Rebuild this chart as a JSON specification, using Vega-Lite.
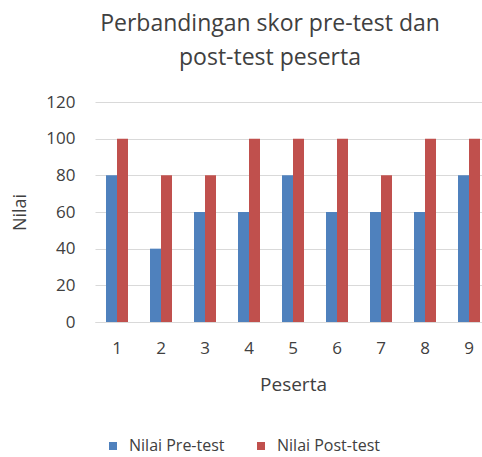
{
  "$schema": "https://vega.github.io/schema/vega-lite/v6.json",
  "autosize": {"type": "none"},
  "padding": {"left": 95, "top": 102, "right": 0, "bottom": 135},
  "width": 396,
  "height": 220,
  "background": "white",
  "config": {
    "font": "Open Sans",
    "view": {"stroke": null}
  },
  "title": {
    "text": ["Perbandingan skor pre-test dan", "post-test peserta"],
    "font": "Open Sans",
    "fontSize": 23,
    "fontWeight": "normal",
    "color": "#404040",
    "anchor": "middle",
    "frame": "group",
    "dx": -23,
    "offset": 23,
    "lineHeight": 34
  },
  "data": {
    "values": [
      {"Peserta": "1", "Seri": "Nilai Pre-test", "Nilai": 80},
      {"Peserta": "1", "Seri": "Nilai Post-test", "Nilai": 100},
      {"Peserta": "2", "Seri": "Nilai Pre-test", "Nilai": 40},
      {"Peserta": "2", "Seri": "Nilai Post-test", "Nilai": 80},
      {"Peserta": "3", "Seri": "Nilai Pre-test", "Nilai": 60},
      {"Peserta": "3", "Seri": "Nilai Post-test", "Nilai": 80},
      {"Peserta": "4", "Seri": "Nilai Pre-test", "Nilai": 60},
      {"Peserta": "4", "Seri": "Nilai Post-test", "Nilai": 100},
      {"Peserta": "5", "Seri": "Nilai Pre-test", "Nilai": 80},
      {"Peserta": "5", "Seri": "Nilai Post-test", "Nilai": 100},
      {"Peserta": "6", "Seri": "Nilai Pre-test", "Nilai": 60},
      {"Peserta": "6", "Seri": "Nilai Post-test", "Nilai": 100},
      {"Peserta": "7", "Seri": "Nilai Pre-test", "Nilai": 60},
      {"Peserta": "7", "Seri": "Nilai Post-test", "Nilai": 80},
      {"Peserta": "8", "Seri": "Nilai Pre-test", "Nilai": 60},
      {"Peserta": "8", "Seri": "Nilai Post-test", "Nilai": 100},
      {"Peserta": "9", "Seri": "Nilai Pre-test", "Nilai": 80},
      {"Peserta": "9", "Seri": "Nilai Post-test", "Nilai": 100}
    ]
  },
  "mark": {"type": "bar"},
  "encoding": {
    "x": {
      "field": "Peserta",
      "type": "nominal",
      "scale": {"paddingInner": 0.5, "paddingOuter": 0.25},
      "axis": {
        "title": "Peserta",
        "labelAngle": 0,
        "labelFont": "Open Sans",
        "labelFontSize": 17,
        "labelColor": "#404040",
        "labelPadding": 18,
        "titleFont": "Open Sans",
        "titleFontSize": 19,
        "titleFontWeight": "normal",
        "titleColor": "#404040",
        "titlePadding": 19,
        "domain": true,
        "domainColor": "#d9d9d9",
        "ticks": false
      }
    },
    "xOffset": {"field": "Seri", "type": "nominal", "sort": ["Nilai Pre-test", "Nilai Post-test"]},
    "y": {
      "field": "Nilai",
      "type": "quantitative",
      "scale": {"domain": [0, 120]},
      "axis": {
        "title": "Nilai",
        "values": [0, 20, 40, 60, 80, 100, 120],
        "labelFont": "Open Sans",
        "labelFontSize": 17,
        "labelColor": "#404040",
        "labelPadding": 20,
        "titleFont": "Open Sans",
        "titleFontSize": 18,
        "titleFontWeight": "normal",
        "titleColor": "#404040",
        "titlePadding": 16,
        "domain": false,
        "ticks": false,
        "grid": true,
        "gridColor": "#d9d9d9"
      }
    },
    "color": {
      "field": "Seri",
      "type": "nominal",
      "sort": ["Nilai Pre-test", "Nilai Post-test"],
      "scale": {"domain": ["Nilai Pre-test", "Nilai Post-test"], "range": ["#4F81BD", "#C0504D"]},
      "legend": {
        "title": null,
        "orient": "none",
        "direction": "horizontal",
        "legendX": 10,
        "legendY": 336,
        "symbolType": "square",
        "symbolSize": 64,
        "symbolStrokeWidth": 0,
        "labelFont": "Open Sans",
        "labelFontSize": 16,
        "labelColor": "#404040",
        "labelOffset": 8,
        "columnPadding": 28
      }
    }
  }
}
